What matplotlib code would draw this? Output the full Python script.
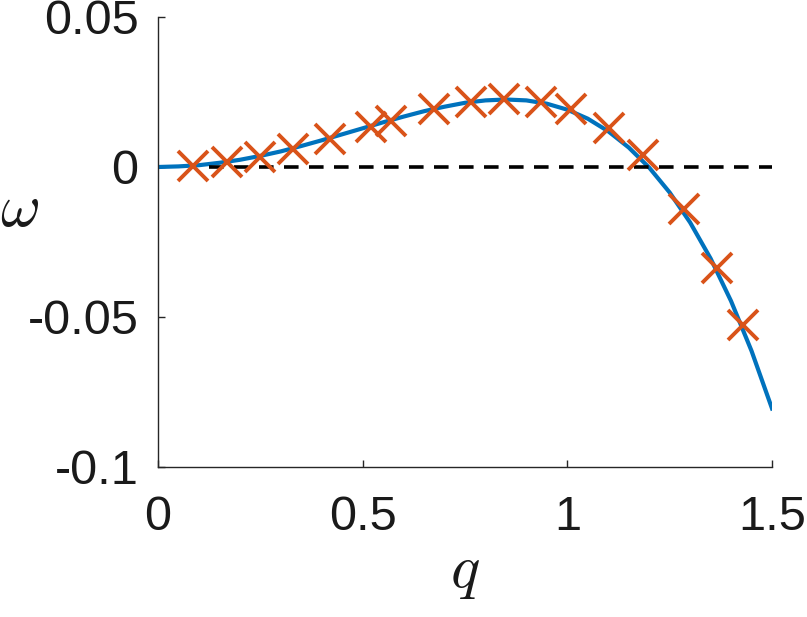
import numpy as np
import matplotlib
matplotlib.use("Agg")
import matplotlib.pyplot as plt

# curve
q_line = [0, 0.05, 0.1, 0.15, 0.2, 0.25, 0.3, 0.35, 0.4, 0.45, 0.5, 0.55, 0.6,
          0.65, 0.7, 0.75, 0.8, 0.85, 0.9, 0.95, 1.0, 1.05, 1.1, 1.15, 1.2,
          1.25, 1.3, 1.35, 1.4, 1.45, 1.5]
w_line = [0, 0.0002, 0.0006, 0.0014, 0.0024, 0.0037, 0.0052, 0.0070, 0.0089,
          0.0109, 0.0129, 0.0149, 0.0168, 0.0186, 0.0201, 0.0214, 0.0222,
          0.0225, 0.0222, 0.0211, 0.0191, 0.0161, 0.0119, 0.0065, -0.0002,
          -0.0085, -0.0185, -0.0305, -0.0447, -0.0613, -0.0805]

# crosses
q_pts = [0.086, 0.169, 0.249, 0.330, 0.419, 0.521, 0.570, 0.675, 0.765, 0.846,
         0.936, 1.009, 1.101, 1.184, 1.284, 1.365, 1.429]
w_pts = [0.0003, 0.0018, 0.0034, 0.0059, 0.0092, 0.0134, 0.0153, 0.0192,
         0.0217, 0.0226, 0.0217, 0.0192, 0.0129, 0.0040, -0.0139, -0.0338,
         -0.0525]

# zero reference
q_zero = [0.125, 1.5]
w_zero = [0, 0]

xticks = [0, 0.5, 1, 1.5]
xticklabels = ['0', '0.5', '1', '1.5']
yticks = [-0.1, -0.05, 0, 0.05]
yticklabels = ['-0.1', '-0.05', '0', '0.05']

plt.rcParams['font.family'] = ['Liberation Sans', 'DejaVu Sans']
plt.rcParams['mathtext.fontset'] = 'cm'
plt.rcParams['lines.scale_dashes'] = False

fig = plt.figure(figsize=(8.07, 6.17), dpi=100)
ax = fig.add_axes([158/807, 150/617, 614/807, 450/617])

ax.plot(q_line, w_line, color='#0072BD', lw=3.0, zorder=2)
ax.plot(q_zero, w_zero, color='black', lw=2.6, dashes=(10.5, 7.5), zorder=3)
ax.plot(q_pts, w_pts, 'x', color='#D95319', ms=22, mew=2.8, zorder=4)

ax.set_xlim(0, 1.5)
ax.set_ylim(-0.1, 0.05)
ax.set_xticks(xticks)
ax.set_xticklabels(xticklabels)
ax.set_yticks(yticks)
ax.set_yticklabels(yticklabels)

for s in ['top', 'right']:
    ax.spines[s].set_visible(False)
for s in ['left', 'bottom']:
    ax.spines[s].set_color('#262626')
    ax.spines[s].set_linewidth(1.0)

ax.tick_params(axis='both', direction='in', length=5, width=1.0,
               color='#262626', labelsize=35, labelcolor='#1a1a1a')
ax.tick_params(axis='x', pad=20)
ax.tick_params(axis='y', pad=14)

ax.set_xlabel(r'$q$', fontsize=44, color='#1a1a1a')
ax.xaxis.label.set_verticalalignment('center')
ax.xaxis.set_label_coords(0.5, -0.235)
ax.set_ylabel(r'$\omega$', fontsize=44, rotation=0, color='#1a1a1a')
ax.yaxis.label.set_verticalalignment('center')
ax.yaxis.label.set_horizontalalignment('center')
ax.yaxis.set_label_coords(-0.225, 0.571)

fig.savefig('out.png', dpi=100)
